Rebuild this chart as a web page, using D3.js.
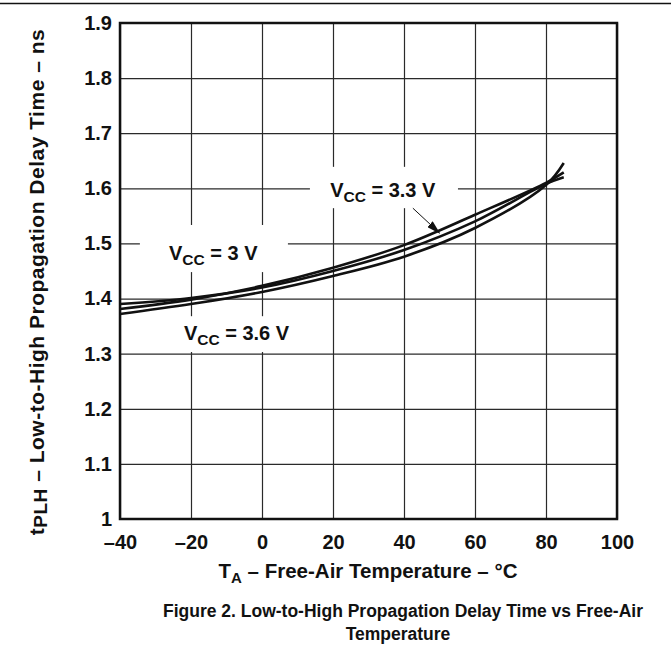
<!DOCTYPE html>
<html>
<head>
<meta charset="utf-8">
<script src="https://cdn.jsdelivr.net/npm/d3@7"></script>
<style>
  body { margin: 0; background: white; }
  text { font-family: "Liberation Sans", Arial, sans-serif; font-weight: bold; fill: #111; }
</style>
</head>
<body>
<div id="chart"></div>
<script>
// data
const temps = [-40, -20, 0, 20, 40, 60, 80, 85];
const curveA = [1.390, 1.401, 1.420, 1.450, 1.488, 1.540, 1.608, 1.620]; // VCC = 3 V
const curveB = [1.381, 1.398, 1.423, 1.456, 1.497, 1.552, 1.610, 1.629]; // VCC = 3.3 V
const curveC = [1.372, 1.390, 1.412, 1.441, 1.476, 1.528, 1.606, 1.646]; // VCC = 3.6 V
const xTicks = [-40, -20, 0, 20, 40, 60, 80, 100];
const yTicks = [1, 1.1, 1.2, 1.3, 1.4, 1.5, 1.6, 1.7, 1.8, 1.9];

const w = 671;
const h = 667;
const padLeft = 120, padRight = 617, padTop = 23, padBottom = 519;

const svg = d3.select("#chart")
  .append("svg")
  .attr("width", w)
  .attr("height", h);

// rule at top of page
svg.append("line")
  .attr("x1", 0).attr("x2", w)
  .attr("y1", 3.5).attr("y2", 3.5)
  .attr("stroke", "#111")
  .attr("stroke-width", 1.5);

const x = d3.scaleLinear().domain([-40, 100]).range([padLeft, padRight]);
const y = d3.scaleLinear().domain([1, 1.9]).range([padBottom, padTop]);

// grid + tick labels
const xAxis = d3.axisBottom(x)
  .tickValues(xTicks)
  .tickSize(-(padBottom - padTop))
  .tickPadding(16)
  .tickFormat(d => d < 0 ? "\u2013" + Math.abs(d) : d);
const yAxis = d3.axisLeft(y)
  .tickValues(yTicks)
  .tickSize(-(padRight - padLeft))
  .tickPadding(8)
  .tickFormat(d => d === 1 ? "1" : d3.format(".1f")(d));

const gx = svg.append("g")
  .attr("transform", "translate(0," + padBottom + ")")
  .call(xAxis);
const gy = svg.append("g")
  .attr("transform", "translate(" + padLeft + ",0)")
  .call(yAxis);

[gx, gy].forEach(g => {
  g.select(".domain").remove();
  g.selectAll(".tick line").attr("stroke", "#2a2a2a").attr("stroke-width", 1.2);
  g.selectAll(".tick text").attr("font-size", 20).attr("fill", "#111")
    .attr("font-family", "Liberation Sans, Arial, sans-serif").attr("font-weight", "bold");
});

// white boxes behind the labels
const boxes = [
  [13.5, 1.639, 55.2, 1.564],
  [-34.4, 1.5335, 7.3, 1.448],
  [-25.9, 1.368, 12.1, 1.303]
];
svg.append("g").selectAll("rect")
  .data(boxes)
  .enter()
  .append("rect")
  .attr("x", d => x(d[0]))
  .attr("y", d => y(d[1]))
  .attr("width", d => x(d[2]) - x(d[0]))
  .attr("height", d => y(d[3]) - y(d[1]))
  .attr("fill", "white");

// border
svg.append("rect")
  .attr("x", padLeft).attr("y", padTop)
  .attr("width", padRight - padLeft).attr("height", padBottom - padTop)
  .attr("fill", "none")
  .attr("stroke", "#111")
  .attr("stroke-width", 2.5);

// curves
const line = d3.line()
  .x((d, i) => x(temps[i]))
  .y(d => y(d))
  .curve(d3.curveCatmullRom.alpha(0.5));

svg.append("g").selectAll("path")
  .data([curveA, curveB, curveC])
  .enter()
  .append("path")
  .attr("d", line)
  .attr("fill", "none")
  .attr("stroke", "#111")
  .attr("stroke-width", 2.6);

// labels
function vccLabel(tx, ty, rest) {
  const t = svg.append("text")
    .attr("x", x(tx))
    .attr("y", y(ty))
    .attr("font-size", 20);
  t.append("tspan").text("V");
  t.append("tspan").attr("dy", 5).attr("font-size", 15.5).text("CC");
  t.append("tspan").attr("dy", -5).text(" = " + rest);
}
vccLabel(19.2, 1.584, "3.3 V");
vccLabel(-26.2, 1.470, "3 V");
vccLabel(-22, 1.325, "3.6 V");

// arrow for 3.3 V
svg.append("defs").append("marker")
  .attr("id", "arrow")
  .attr("viewBox", "0 0 14 8")
  .attr("refX", 13).attr("refY", 4)
  .attr("markerWidth", 14).attr("markerHeight", 8)
  .attr("markerUnits", "userSpaceOnUse")
  .attr("orient", "auto")
  .append("path")
  .attr("d", "M0,0 L14,4 L0,8 z")
  .attr("fill", "#111");

svg.append("line")
  .attr("x1", x(42.5)).attr("y1", y(1.564))
  .attr("x2", x(50)).attr("y2", y(1.519))
  .attr("stroke", "#111")
  .attr("stroke-width", 1)
  .attr("marker-end", "url(#arrow)");

// y axis title
const yt = svg.append("text")
  .attr("transform", "translate(44,282) rotate(-90)")
  .attr("text-anchor", "middle")
  .attr("font-size", 21)
  .attr("letter-spacing", 0.5);
yt.append("tspan").text("t");
yt.append("tspan").attr("dy", 3).attr("font-size", 19).text("PLH");
yt.append("tspan").attr("dy", -3).text(" \u2013 Low-to-High Propagation Delay Time \u2013 ns");

// x axis title
const xt = svg.append("text")
  .attr("x", 368)
  .attr("y", 578)
  .attr("text-anchor", "middle")
  .attr("font-size", 20.5);
xt.append("tspan").text("T");
xt.append("tspan").attr("dy", 5).attr("font-size", 15).text("A");
xt.append("tspan").attr("dy", -5).text(" \u2013 Free-Air Temperature \u2013 \u00B0C");

// caption
svg.append("text")
  .attr("x", 403).attr("y", 617)
  .attr("text-anchor", "middle")
  .attr("font-size", 17.5)
  .text("Figure 2. Low-to-High Propagation Delay Time vs Free-Air");
svg.append("text")
  .attr("x", 398).attr("y", 640)
  .attr("text-anchor", "middle")
  .attr("font-size", 17.5)
  .text("Temperature");
</script>
</body>
</html>
